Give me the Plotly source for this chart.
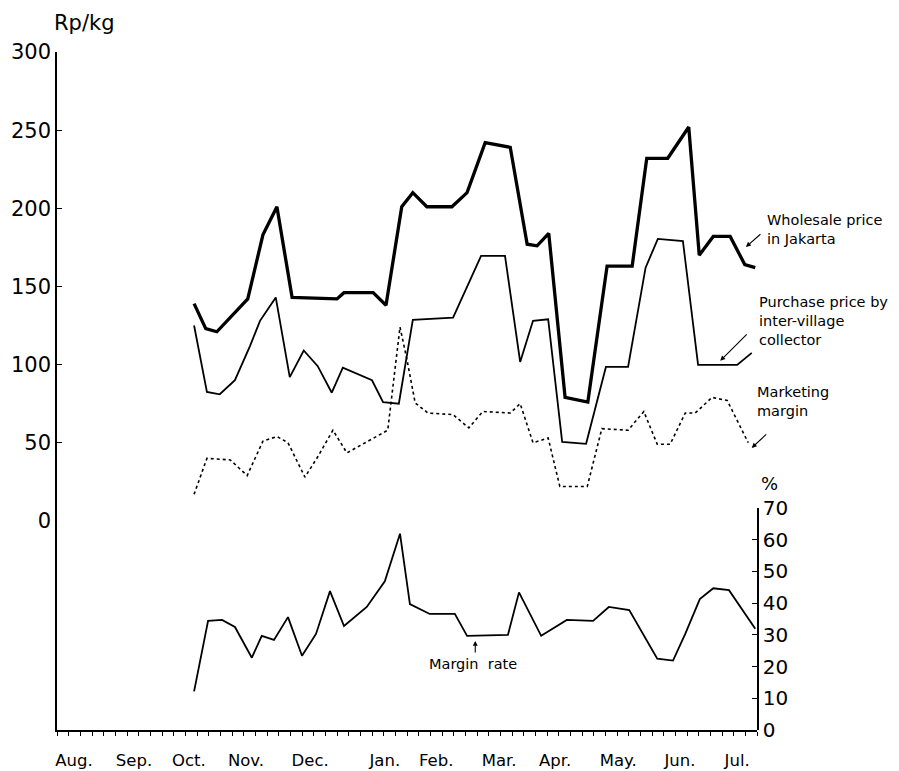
import plotly.graph_objects as go

# x positions in months from start of August (0 = Aug 1, 12 = end of Jul)
ws_x = [2.35, 2.55, 2.74, 3.27, 3.53, 3.77, 4.03, 4.80, 4.92, 5.42, 5.64, 5.91, 6.10, 6.34, 6.77, 7.03,
        7.34, 7.77, 8.06, 8.23, 8.43, 8.71, 9.10, 9.43, 9.86, 10.11, 10.47, 10.83, 11.01, 11.25, 11.54, 11.79, 11.97]
ws_y = [139, 123, 121, 142, 183, 201, 143, 142, 146, 146, 138, 201, 210, 201, 201, 210,
        242, 239, 177, 176, 184, 79, 76, 163, 163, 232, 232, 252, 170, 182, 182, 164, 162]

pp_x = [2.35, 2.57, 2.79, 3.05, 3.31, 3.48, 3.75, 3.99, 4.23, 4.47, 4.71, 4.90, 5.40, 5.59, 5.86, 6.10,
        6.79, 7.27, 7.68, 7.94, 8.16, 8.42, 8.66, 9.07, 9.41, 9.79, 10.09, 10.30, 10.73, 10.99, 11.66, 11.91]
pp_y = [125, 82.5, 81, 90, 112, 128, 143, 92, 109, 99, 82, 98, 90, 76, 75, 128.6,
        130, 169.5, 169.5, 101.7, 128, 129, 50.5, 49.3, 98.5, 98.5, 162, 180.4, 179, 99.8, 99.8, 107.5]

mm_x = [2.35, 2.57, 2.97, 3.26, 3.53, 3.77, 3.96, 4.25, 4.47, 4.73, 4.97, 5.67, 5.88, 6.00, 6.14, 6.36,
        6.79, 7.06, 7.30, 7.77, 7.94, 8.16, 8.42, 8.62, 9.09, 9.34, 9.79, 10.06, 10.29, 10.51, 10.77, 10.94,
        11.23, 11.49, 11.85]
mm_y = [17, 40, 39, 29, 51, 54, 50, 28, 41, 58, 43.5, 58, 124, 103, 75.5, 69,
        68, 59.5, 70, 69, 75, 50, 53, 22, 22, 59, 58, 70, 49, 49, 69, 69,
        79, 77, 50]

mr_x = [2.35, 2.59, 2.83, 3.05, 3.34, 3.51, 3.72, 3.96, 4.20, 4.44, 4.68, 4.92, 5.31, 5.62, 5.88, 6.05,
        6.39, 6.82, 7.03, 7.73, 7.92, 8.30, 8.74, 9.19, 9.46, 9.81, 10.29, 10.56, 10.77, 11.02, 11.25, 11.52, 11.97]
mr_y = [12.2, 34.4, 34.7, 32.5, 22.8, 29.7, 28.4, 35.6, 23.4, 30.3, 43.8, 32.8, 38.8, 46.9, 61.9, 39.7,
        36.6, 36.6, 29.7, 30.0, 43.4, 29.7, 34.7, 34.4, 38.8, 37.8, 22.5, 21.9, 30.3, 41.3, 44.7, 44.1, 31.9]

month_pos = [0.29, 1.32, 2.26, 3.24, 4.34, 5.62, 6.50, 7.58, 8.54, 9.62, 10.68, 11.66]
month_lbl = ["Aug.", "Sep.", "Oct.", "Nov.", "Dec.", "Jan.", "Feb.", "Mar.", "Apr.", "May.", "Jun.", "Jul."]

price_ticks = [0, 50, 100, 150, 200, 250, 300]
rate_ticks = [0, 10, 20, 30, 40, 50, 60, 70]

FONT = "DejaVu Sans"

fig = go.Figure()
fig.add_trace(go.Scatter(x=ws_x, y=ws_y, mode="lines", line=dict(color="black", width=3.3), yaxis="y"))
fig.add_trace(go.Scatter(x=pp_x, y=pp_y, mode="lines", line=dict(color="black", width=1.8), yaxis="y"))
fig.add_trace(go.Scatter(x=mm_x, y=mm_y, mode="lines", line=dict(color="black", width=1.6, dash="dot"), yaxis="y"))
fig.add_trace(go.Scatter(x=mr_x, y=mr_y, mode="lines", line=dict(color="black", width=1.8), yaxis="y2"))

# the page body has an 8px margin, so the figure is offset by 8px; margins compensate
fig.update_layout(
    width=899, height=771,
    margin=dict(l=49, r=150, t=44, b=49, autoexpand=False),
    paper_bgcolor="white", plot_bgcolor="white",
    showlegend=False,
    font=dict(family=FONT, color="black"),
    xaxis=dict(
        range=[0, 12], showgrid=False, zeroline=False, automargin=False,
        showline=True, linecolor="black", linewidth=1.5,
        tickmode="array", tickvals=month_pos, ticktext=month_lbl,
        ticks="outside", ticklen=0, tickfont=dict(size=16.5, family=FONT),
        ticklabelstandoff=14,
        minor=dict(ticks="outside", ticklen=4, tick0=0, dtick=0.2, tickcolor="black", tickwidth=1.2),
    ),
    yaxis=dict(
        range=[-133.8, 300], showgrid=False, zeroline=False, automargin=False,
        showline=True, linecolor="black", linewidth=1.5,
        tickmode="array", tickvals=price_ticks,
        ticks="inside", ticklen=5, tickcolor="black", tickwidth=1.2,
        tickfont=dict(size=21, family=FONT),
    ),
    yaxis2=dict(
        domain=[0, 0.3274], range=[0, 70], anchor="x", side="right", automargin=False,
        showgrid=False, zeroline=False,
        showline=True, linecolor="black", linewidth=1.5,
        tickmode="array", tickvals=rate_ticks,
        ticks="inside", ticklen=5, tickcolor="black", tickwidth=1.2,
        tickfont=dict(size=20, family=FONT),
    ),
)

ann_font = dict(size=14.5, family=FONT, color="black")
fig.add_annotation(xref="paper", yref="paper", x=-0.007, y=1.0428, xanchor="left", yanchor="middle",
                   text="Rp/kg", showarrow=False, font=dict(size=21, family=FONT))
fig.add_annotation(xref="paper", yref="paper", x=1.003, y=0.363, xanchor="left", yanchor="middle",
                   text="%", showarrow=False, font=dict(size=18, family=FONT))

fig.add_annotation(xref="paper", yref="paper", x=1.0114, y=0.7382, xanchor="left", yanchor="middle", align="left",
                   text="Wholesale price<br>in Jakarta", showarrow=False, font=ann_font)
fig.add_annotation(xref="paper", yref="paper", x=1.0, y=0.6032, xanchor="left", yanchor="middle", align="left",
                   text="Purchase price by<br>inter-village<br>collector", showarrow=False, font=ann_font)
fig.add_annotation(xref="paper", yref="paper", x=0.997, y=0.4838, xanchor="left", yanchor="middle", align="left",
                   text="Marketing<br>margin", showarrow=False, font=ann_font)
fig.add_annotation(x=7.13, y=20.8, xref="x", yref="y2", xanchor="center", yanchor="middle",
                   text="Margin  rate", showarrow=False, font=ann_font)

arrow = dict(showarrow=True, arrowhead=2, arrowsize=0.9, arrowwidth=1.1, arrowcolor="black", text="",
             standoff=0, startstandoff=0)
fig.add_annotation(x=11.81, y=175.3, xref="x", yref="y", ax=16, ay=-14, **arrow)
fig.add_annotation(x=11.37, y=102.4, xref="x", yref="y", ax=28, ay=-28, **arrow)
fig.add_annotation(x=11.91, y=46.7, xref="x", yref="y", ax=16, ay=-15, **arrow)
fig.add_annotation(x=7.17, y=28.1, xref="x", yref="y2", ax=0, ay=13, **arrow)

fig.write_html("out.html")
